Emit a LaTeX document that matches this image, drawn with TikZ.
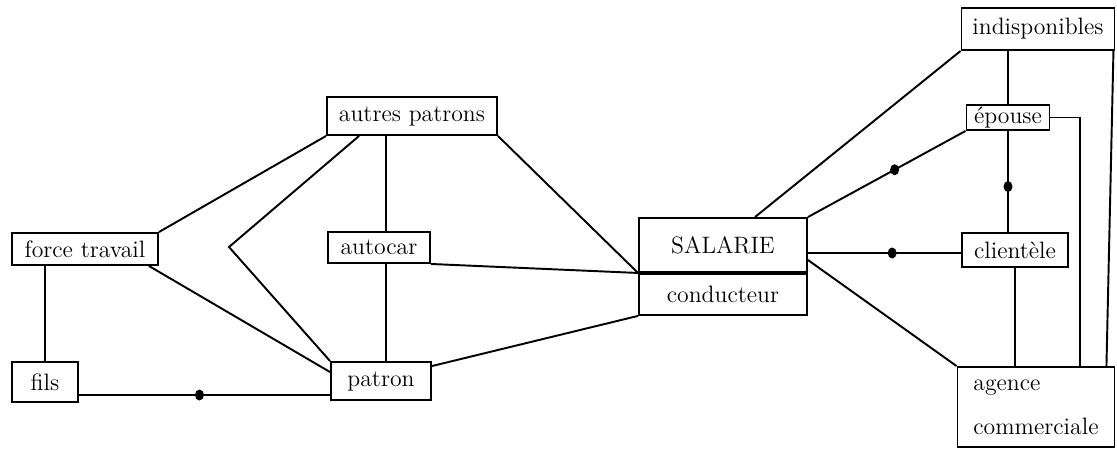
\documentclass[tikz,border=0pt]{standalone}
\usepackage{fontspec}
\usepackage{tikz}
\usetikzlibrary{calc}
\tikzstyle{ent}=[draw, rectangle, fill=white, inner sep=1pt, line width=1.1pt]
\tikzstyle{dot}=[ellipse, fill=black, inner sep=0pt, minimum width=0.18cm, minimum height=0.22cm]
\tikzstyle{link}=[line width=1.1pt]
\usetikzlibrary{shapes.geometric}

\begin{document}
\begin{tikzpicture}[x=0.02cm, y=-0.02cm, font=\fontsize{13.5}{16}\selectfont]
      \useasboundingbox (0,0) rectangle (1117,451);
      \node [ent, minimum width=2.92cm, minimum height=0.64cm] (ftrav) at (85,249) {force travail};
      \node [ent, minimum width=1.32cm, minimum height=0.8cm] (fils) at (45,382) {fils};
      \node [ent, minimum width=2cm, minimum height=0.76cm] (patron) at (381,381) {patron};
      \node [ent, minimum width=2.04cm, minimum height=0.62cm] (autocar) at (379,247.5) {autocar};
      \node [ent, minimum width=3.4cm, minimum height=0.76cm] (ap) at (412,116) {autres patrons};
      \node [ent, minimum width=3.36cm, minimum height=1.08cm] (sal) at (723,245) {SALARIE};
      \node [ent, minimum width=3.36cm, minimum height=0.82cm, anchor=north] (cond) at (sal.south) {conducteur};
      \node [ent, minimum width=3.06cm, minimum height=0.84cm] (ind) at (1038,29) {indisponibles};
      \node [ent, minimum width=1.66cm, minimum height=0.5cm] (ep) at (1008,117.5) {épouse};
      \node [ent, minimum width=2.12cm, minimum height=0.68cm] (cli) at (1015,250) {clientèle};
      \node [ent, minimum width=3.14cm, minimum height=1.6cm, align=left,
             font=\fontsize{13.5}{25}\selectfont] (ag) at (1036,407) {agence\\commerciale};

      % left half
      \coordinate (apex) at (229,247);
      \coordinate (vx) at ($(autocar.north)+(7,0)$);
      \draw [link] ($(ap.south west)+(33,0)$) -- (apex) -- (patron.north west);
      \draw [link] (vx |- ap.south) -- (vx);
      \draw [link] (vx |- autocar.south) -- (vx |- patron.north);
      \path [link] (ap.south west) edge (ftrav.north east)
                   ($(ftrav.south east)+(-10,0)$) edge ($(patron.north west)+(0,11)$)
                   (fils.north |- ftrav.south) edge (fils.north)
                   ($(fils.east)+(0,13)$) edge node [dot, pos=0.48] {} ($(patron.west)+(0,14)$)
                   (autocar.south east) edge (sal.south west)
                   (ap.south east) edge (sal.south west)
                   ($(patron.north east)+(0,5)$) edge (cond.south west);

      % right half
      \path [link] ($(sal.north)+(32,0)$) edge (ind.south west)
                   (sal.north east) edge node [dot, pos=0.55] {} (ep.south west)
                   ($(sal.east)+(0,8)$) edge node [dot, pos=0.55] {} ($(cli.west)+(0,3)$)
                   ($(sal.east)+(0,15)$) edge (ag.north west)
                   (ind.south -| ep.north) edge (ep.north)
                   (ep.south) edge node [dot, pos=0.55] {} (ep.south |- cli.north)
                   (cli.south) edge (cli.south |- ag.north)
                   ($(ind.south east)+(-2,0)$) edge ($(ag.north east)+(-9,0)$);
      \draw [link] (ep.east) -| ($(ag.north east)+(-35,0)$);
\end{tikzpicture}
\end{document}
